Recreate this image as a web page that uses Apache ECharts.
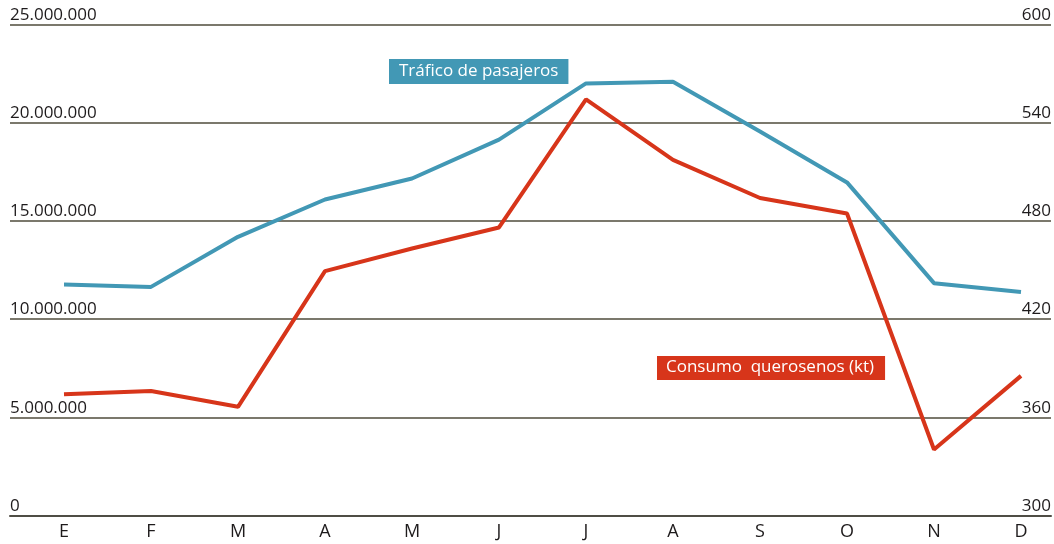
<!DOCTYPE html>
<html>
<head>
<meta charset="utf-8">
<script src="https://cdn.jsdelivr.net/npm/echarts@6/dist/echarts.min.js"></script>
<style>
html,body{margin:0;padding:0;background:#fff;}
#chart{width:1054px;height:544px;}
</style>
</head>
<body>
<div id="chart"></div>
<script>
const months = ['E','F','M','A','M','J','J','A','S','O','N','D'];
const pasajeros = [11760000, 11640000, 14190000, 16090000, 17160000, 19140000, 22000000, 22080000, 19550000, 16960000, 11830000, 11380000];
const queroseno = [374.1, 376.1, 366.4, 449.3, 463.1, 476.0, 554.2, 517.3, 494.0, 484.5, 340.3, 385.3];
const leftTicks = {min: 0, max: 25000000, interval: 5000000};
const rightTicks = {min: 300, max: 600, interval: 60};
const labelPasajeros = 'Tráfico de pasajeros';
const labelQueroseno = 'Consumo  querosenos (kt)';

const BLUE = '#4298b5';
const RED = '#d7351a';
const GRID = '#7b786c';
const TEXT = '#1e1b1c';
const FONT = '"Open Sans", sans-serif';

function fmtThousands(v){
  return String(v).replace(/\B(?=(\d{3})+(?!\d))/g, '.');
}

const chart = echarts.init(document.getElementById('chart'), null, {renderer:'canvas'});
const TOP = 24.5, BOTTOM = 28.5;
chart.setOption({
  animation: false,
  backgroundColor: '#fff',
  grid: [
    {left: 10, right: 1, top: TOP, bottom: BOTTOM},
    {left: 64, right: 33, top: TOP, bottom: BOTTOM}
  ],
  xAxis: [
    {gridIndex: 0, type: 'value', min: 0, max: 1, show: true,
     axisLine: {show: true, onZero: false, lineStyle: {color: '#4f4d45', width: 2}},
     axisTick: {show: false}, axisLabel: {show: false}, splitLine: {show: false}},
    {gridIndex: 1, type: 'category', data: months, boundaryGap: false,
     axisLine: {show: false}, axisTick: {show: false}, splitLine: {show: false},
     axisLabel: {color: TEXT, fontFamily: FONT, fontSize: 18, margin: 7, interval: 0}}
  ],
  yAxis: [
    {gridIndex: 0, type: 'value', position: 'left', min: leftTicks.min, max: leftTicks.max, interval: leftTicks.interval,
     axisLine: {show: false}, axisTick: {show: false},
     splitLine: {show: true, lineStyle: {color: GRID, width: 2}},
     axisLabel: {inside: true, margin: 0, align: 'left', verticalAlign: 'bottom', padding: [0,0,1,0],
                 color: TEXT, fontFamily: FONT, fontSize: 17, formatter: v => fmtThousands(v)}},
    {gridIndex: 0, type: 'value', position: 'right', min: rightTicks.min, max: rightTicks.max, interval: rightTicks.interval,
     axisLine: {show: false}, axisTick: {show: false}, splitLine: {show: false},
     axisLabel: {inside: true, margin: 0, align: 'right', verticalAlign: 'bottom', padding: [0,0,1,0],
                 color: TEXT, fontFamily: FONT, fontSize: 17}},
    {gridIndex: 1, type: 'value', min: leftTicks.min, max: leftTicks.max, show: false, splitLine: {show: false}},
    {gridIndex: 1, type: 'value', min: rightTicks.min, max: rightTicks.max, show: false, splitLine: {show: false}}
  ],
  series: [
    {name: labelPasajeros, type: 'line', xAxisIndex: 1, yAxisIndex: 2, data: pasajeros,
     symbol: 'none', lineStyle: {color: BLUE, width: 4}, z: 3},
    {name: labelQueroseno, type: 'line', xAxisIndex: 1, yAxisIndex: 3, data: queroseno,
     symbol: 'none', lineStyle: {color: RED, width: 4}, z: 4}
  ],
  graphic: [
    {type: 'text', left: 389, top: 59, z: 10,
     style: {text: labelPasajeros, fill: '#fff', font: '17px ' + FONT,
             backgroundColor: BLUE, padding: [4, 10, 4, 10]}},
    {type: 'text', left: 657, top: 356, z: 10,
     style: {text: labelQueroseno, fill: '#fff', font: '17px ' + FONT,
             backgroundColor: RED, padding: [3, 11, 4, 9]}}
  ]
});
</script>
</body>
</html>
